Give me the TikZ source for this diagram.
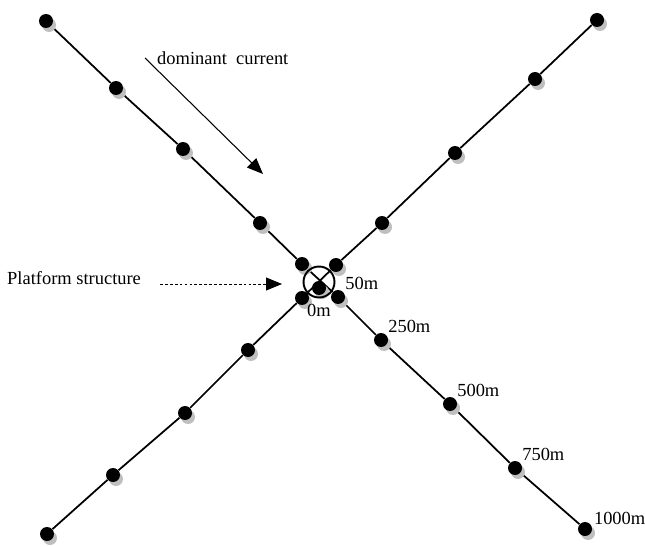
\documentclass[tikz,border=0pt]{standalone}
\usepackage{fontspec}
\setmainfont{Liberation Serif}
\usepackage{tikz}
\usetikzlibrary{shadows, backgrounds, arrows.meta}

\begin{document}
\begin{tikzpicture}[x=0.02cm, y=-0.02cm, font=\fontsize{10.5}{12.5}\selectfont,
        dot/.style={circle, fill=black, inner sep=0pt, minimum size=0.28cm,
            drop shadow={shadow xshift=0.06cm, shadow yshift=-0.08cm, fill=black!25, opacity=1}},
        dist/.style={anchor=south west, inner sep=1pt},
        tip/.style={-{Triangle[length=0.32cm, width=0.26cm]}}]
        \useasboundingbox (0, 0) rectangle (645, 547);

        % north-west arm
        \node[dot] (nw1) at (46, 21) {};
        \node[dot] (nw2) at (116, 88) {};
        \node[dot] (nw3) at (183, 149) {};
        \node[dot] (nw4) at (260, 223) {};
        \node[dot] (nw5) at (302, 264) {};
        % south-east arm
        \node[dot, label={[dist]45:50m}] (se1) at (338, 297) {};
        \node[dot, label={[dist]45:250m}] (se2) at (381, 340) {};
        \node[dot, label={[dist]45:500m}] (se3) at (450, 404) {};
        \node[dot, label={[dist]45:750m}] (se4) at (515, 468) {};
        \node[dot, label={[dist]20:1000m}] (se5) at (585, 529) {};
        % north-east arm
        \node[dot] (ne1) at (597, 20) {};
        \node[dot] (ne2) at (535, 79) {};
        \node[dot] (ne3) at (455, 153) {};
        \node[dot] (ne4) at (382, 223) {};
        \node[dot] (ne5) at (336, 265) {};
        % south-west arm
        \node[dot] (sw1) at (302, 298) {};
        \node[dot] (sw2) at (248, 350) {};
        \node[dot] (sw3) at (185, 413) {};
        \node[dot] (sw4) at (113, 475) {};
        \node[dot] (sw5) at (47, 534) {};

        \node[dot, label={[label distance=1.5pt]-90:0m}] (c) at (319, 288) {};
        \node[circle, draw, line width=1.1pt, minimum size=0.62cm] (ring) at (319, 282) {};

        \begin{pgfonlayer}{background}
            \draw[line width=1pt] (nw1) -- (nw2) -- (nw3) -- (nw4) -- (nw5) -- (se1) -- (se2) -- (se3) -- (se4) -- (se5);
            \draw[line width=1pt] (ne1) -- (ne2) -- (ne3) -- (ne4) -- (ne5) -- (sw1) -- (sw2) -- (sw3) -- (sw4) -- (sw5);
        \end{pgfonlayer}

        \node[anchor=west] (current) at (151, 58) {dominant\ \ current};
        \coordinate (cs) at (145, 58);
        \coordinate (ce) at (263, 174);
        \draw[tip, line width=0.6pt] (cs) -- (ce);

        \node[anchor=west] (platform) at (1, 278) {Platform structure};
        \coordinate (ps) at (160, 284);
        \coordinate (pe) at (282, 284);
        \draw[tip, line width=0.5pt, dash pattern=on 1.6pt off 1.2pt] (ps) -- (pe);
\end{tikzpicture}
\end{document}
